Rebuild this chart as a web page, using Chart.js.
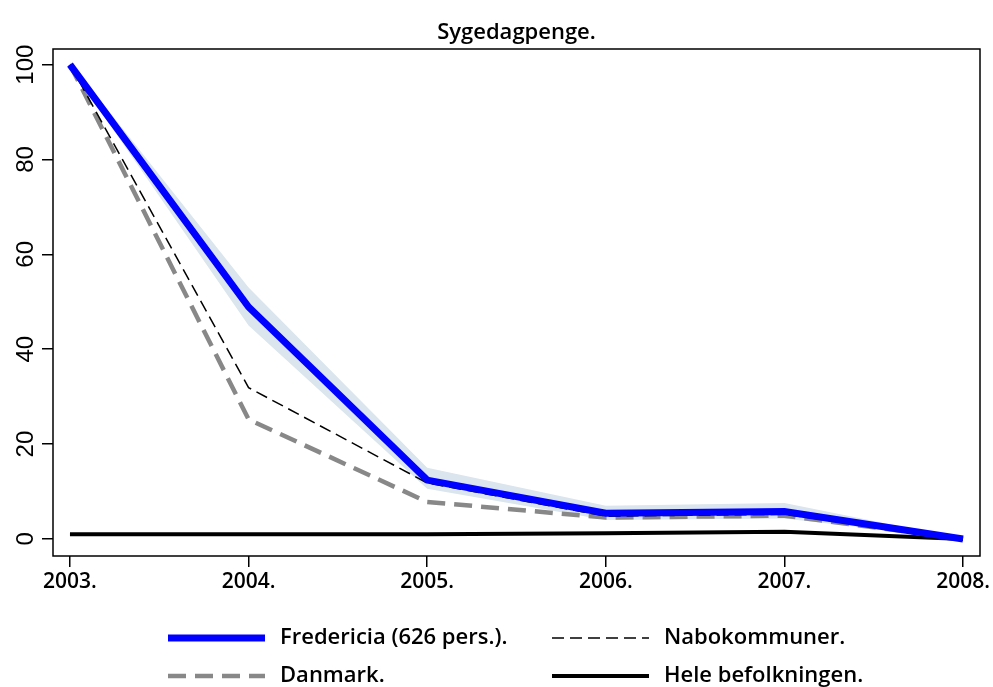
<!DOCTYPE html>
<html>
<head>
<meta charset="utf-8">
<script src="https://cdn.jsdelivr.net/npm/chart.js@4"></script>
<style>
  html, body { margin: 0; padding: 0; background: #fff; }
  #wrap { width: 993px; height: 687px; }
</style>
</head>
<body>
<div id="wrap"><canvas id="chart" width="993" height="687"></canvas></div>
<script>
// data
let years = [2003, 2004, 2005, 2006, 2007, 2008];
let fredericia = [100, 48.9, 12.4, 5.4, 5.8, 0];
let fredLow = [99.5, 45.0, 10.6, 4.0, 4.3, 0];
let fredHigh = [100.5, 53.0, 15.0, 7.0, 7.6, 0];
let nabokommuner = [100, 31.9, 11.8, 4.8, 5.2, 0];
let danmark = [100, 25.2, 7.8, 4.5, 4.9, 0];
let hele = [1.0, 1.0, 1.0, 1.2, 1.5, 0];
let yTicks = [0, 20, 40, 60, 80, 100];

let labelFont = "'Open Sans', sans-serif";

function pts(vals) {
  return vals.map((v, i) => ({ x: years[i], y: v }));
}

// title, frame, rotated y labels and legend
let extras = {
  id: 'extras',
  afterDraw(chart) {
    let ctx = chart.ctx;
    let a = chart.chartArea;
    let ys = chart.scales.y;
    ctx.save();
    ctx.strokeStyle = '#000';
    ctx.lineWidth = 1.5;
    ctx.strokeRect(a.left, a.top, a.right - a.left, a.bottom - a.top);

    ctx.fillStyle = '#000';
    ctx.font = '600 22px ' + labelFont;
    ctx.textAlign = 'center';
    ctx.textBaseline = 'alphabetic';
    ctx.fillText('Sygedagpenge.', (a.left + a.right) / 2, 39);

    ctx.font = '24px "Liberation Sans", Arial, sans-serif';
    yTicks.forEach(t => {
      let py = ys.getPixelForValue(t);
      ctx.save();
      ctx.translate(33, py);
      ctx.rotate(-Math.PI / 2);
      ctx.textAlign = 'center';
      ctx.fillText(String(t), 0, 0);
      ctx.restore();
    });

    // legend
    let items = [
      { text: 'Fredericia (626 pers.).', x: 168, y: 638, color: '#0000ff', w: 7, dash: [] },
      { text: 'Nabokommuner.', x: 552, y: 638, color: '#000', w: 1.5, dash: [12, 6] },
      { text: 'Danmark.', x: 168, y: 676, color: '#888', w: 4.5, dash: [18, 9] },
      { text: 'Hele befolkningen.', x: 552, y: 676, color: '#000', w: 4, dash: [] }
    ];
    ctx.textAlign = 'left';
    ctx.textBaseline = 'middle';
    ctx.font = '600 22px ' + labelFont;
    items.forEach(it => {
      ctx.beginPath();
      ctx.strokeStyle = it.color;
      ctx.lineWidth = it.w;
      ctx.setLineDash(it.dash);
      ctx.moveTo(it.x, it.y);
      ctx.lineTo(it.x + 97, it.y);
      ctx.stroke();
      ctx.setLineDash([]);
      ctx.fillText(it.text, it.x + 112, it.y);
    });
    ctx.restore();
  }
};

let chart = new Chart(document.getElementById('chart'), {
  type: 'line',
  data: {
    datasets: [
      { label: 'ci-high', data: pts(fredHigh), borderWidth: 0, pointRadius: 0, fill: '+1',
        backgroundColor: 'rgb(218,229,237)', order: 6 },
      { label: 'ci-low', data: pts(fredLow), borderWidth: 0, pointRadius: 0, fill: false, order: 6 },
      { label: 'Hele befolkningen', data: pts(hele), borderColor: '#000', borderWidth: 4,
        pointRadius: 0, fill: false, order: 4 },
      { label: 'Danmark', data: pts(danmark), borderColor: '#888', borderWidth: 4.5,
        borderDash: [18, 9], pointRadius: 0, fill: false, order: 3 },
      { label: 'Nabokommuner', data: pts(nabokommuner), borderColor: '#000', borderWidth: 1.5,
        borderDash: [12, 6], pointRadius: 0, fill: false, order: 2 },
      { label: 'Fredericia (626 pers.)', data: pts(fredericia), borderColor: '#0000ff', borderWidth: 7,
        pointRadius: 0, fill: false, order: 1 }
    ]
  },
  options: {
    responsive: false,
    animation: false,
    layout: { padding: { top: 49, right: 13, left: 0, bottom: 0 } },
    plugins: { legend: { display: false }, title: { display: false }, tooltip: { enabled: false } },
    elements: { line: { tension: 0, borderCapStyle: 'butt', borderJoinStyle: 'miter' } },
    scales: {
      x: {
        type: 'linear',
        min: 2002.905,
        max: 2008.095,
        afterBuildTicks: s => { s.ticks = years.map(v => ({ value: v })); },
        afterFit: s => { s.height = 131; },
        grid: { drawOnChartArea: false, color: '#000', tickLength: 11, lineWidth: 1.5 },
        border: { display: false },
        ticks: {
          color: '#000',
          font: { family: labelFont, size: 21, weight: '600' },
          padding: 2,
          maxRotation: 0,
          callback: v => v + '.'
        }
      },
      y: {
        min: -3.6,
        max: 103.3,
        afterBuildTicks: s => { s.ticks = yTicks.map(v => ({ value: v })); },
        afterFit: s => { s.width = 53; },
        grid: { drawOnChartArea: false, color: '#000', tickLength: 11, lineWidth: 1.5 },
        border: { display: false },
        ticks: { display: false }
      }
    }
  },
  plugins: [extras]
});
</script>
</body>
</html>
